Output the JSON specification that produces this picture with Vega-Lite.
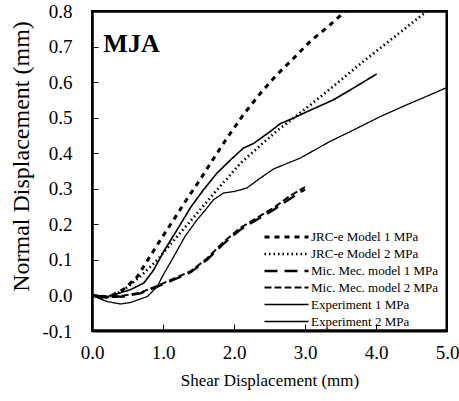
{
  "$schema": "https://vega.github.io/schema/vega-lite/v6.json",
  "width": 355,
  "height": 320,
  "autosize": {"type": "none"},
  "padding": {"left": 92, "top": 11, "right": 12, "bottom": 70},
  "background": "white",
  "config": {
    "font": "Liberation Serif",
    "view": {"stroke": "black", "strokeWidth": 2},
    "axis": {"grid": false, "tickColor": "black", "labelColor": "black", "titleColor": "black", "labelFont": "Liberation Serif", "titleFont": "Liberation Serif", "titleFontWeight": "normal"}
  },
  "resolve": {"axis": {"x": "independent", "y": "independent"}},
  "layer": [
    {
      "data": {"values": [
        {"s": "JRC-e Model 1 MPa", "x": 0, "y": 0},
        {"s": "JRC-e Model 1 MPa", "x": 0.2, "y": -0.004},
        {"s": "JRC-e Model 1 MPa", "x": 0.3, "y": 0.002},
        {"s": "JRC-e Model 1 MPa", "x": 0.45, "y": 0.018},
        {"s": "JRC-e Model 1 MPa", "x": 0.64, "y": 0.053},
        {"s": "JRC-e Model 1 MPa", "x": 0.78, "y": 0.098},
        {"s": "JRC-e Model 1 MPa", "x": 0.96, "y": 0.155},
        {"s": "JRC-e Model 1 MPa", "x": 1.15, "y": 0.213},
        {"s": "JRC-e Model 1 MPa", "x": 1.34, "y": 0.272},
        {"s": "JRC-e Model 1 MPa", "x": 1.53, "y": 0.328},
        {"s": "JRC-e Model 1 MPa", "x": 1.67, "y": 0.372},
        {"s": "JRC-e Model 1 MPa", "x": 1.9, "y": 0.442},
        {"s": "JRC-e Model 1 MPa", "x": 2.13, "y": 0.508},
        {"s": "JRC-e Model 1 MPa", "x": 2.37, "y": 0.568},
        {"s": "JRC-e Model 1 MPa", "x": 2.6, "y": 0.62},
        {"s": "JRC-e Model 1 MPa", "x": 2.84, "y": 0.667},
        {"s": "JRC-e Model 1 MPa", "x": 3.07, "y": 0.714},
        {"s": "JRC-e Model 1 MPa", "x": 3.33, "y": 0.757},
        {"s": "JRC-e Model 1 MPa", "x": 3.57, "y": 0.8},
        {"s": "JRC-e Model 2 MPa", "x": 0, "y": 0},
        {"s": "JRC-e Model 2 MPa", "x": 0.2, "y": -0.004},
        {"s": "JRC-e Model 2 MPa", "x": 0.3, "y": 0.0},
        {"s": "JRC-e Model 2 MPa", "x": 0.45, "y": 0.016},
        {"s": "JRC-e Model 2 MPa", "x": 0.68, "y": 0.053},
        {"s": "JRC-e Model 2 MPa", "x": 0.92, "y": 0.1},
        {"s": "JRC-e Model 2 MPa", "x": 1.2, "y": 0.166},
        {"s": "JRC-e Model 2 MPa", "x": 1.48, "y": 0.231},
        {"s": "JRC-e Model 2 MPa", "x": 1.76, "y": 0.297},
        {"s": "JRC-e Model 2 MPa", "x": 1.9, "y": 0.328},
        {"s": "JRC-e Model 2 MPa", "x": 2.09, "y": 0.372},
        {"s": "JRC-e Model 2 MPa", "x": 2.6, "y": 0.462},
        {"s": "JRC-e Model 2 MPa", "x": 3.07, "y": 0.535},
        {"s": "JRC-e Model 2 MPa", "x": 3.35, "y": 0.58},
        {"s": "JRC-e Model 2 MPa", "x": 3.82, "y": 0.658},
        {"s": "JRC-e Model 2 MPa", "x": 4.29, "y": 0.732},
        {"s": "JRC-e Model 2 MPa", "x": 4.72, "y": 0.8},
        {"s": "Mic. Mec. model 1 MPa", "x": 0, "y": 0},
        {"s": "Mic. Mec. model 1 MPa", "x": 0.2, "y": -0.004},
        {"s": "Mic. Mec. model 1 MPa", "x": 0.45, "y": -0.003},
        {"s": "Mic. Mec. model 1 MPa", "x": 0.68, "y": 0.006},
        {"s": "Mic. Mec. model 1 MPa", "x": 0.92, "y": 0.025},
        {"s": "Mic. Mec. model 1 MPa", "x": 1.15, "y": 0.044},
        {"s": "Mic. Mec. model 1 MPa", "x": 1.39, "y": 0.065},
        {"s": "Mic. Mec. model 1 MPa", "x": 1.62, "y": 0.1},
        {"s": "Mic. Mec. model 1 MPa", "x": 1.85, "y": 0.145},
        {"s": "Mic. Mec. model 1 MPa", "x": 2.09, "y": 0.185},
        {"s": "Mic. Mec. model 1 MPa", "x": 2.32, "y": 0.213},
        {"s": "Mic. Mec. model 1 MPa", "x": 2.56, "y": 0.241},
        {"s": "Mic. Mec. model 1 MPa", "x": 2.79, "y": 0.272},
        {"s": "Mic. Mec. model 1 MPa", "x": 3.0, "y": 0.298},
        {"s": "Mic. Mec. model 2 MPa", "x": 0, "y": 0},
        {"s": "Mic. Mec. model 2 MPa", "x": 0.2, "y": -0.006},
        {"s": "Mic. Mec. model 2 MPa", "x": 0.45, "y": 0.0},
        {"s": "Mic. Mec. model 2 MPa", "x": 0.68, "y": 0.008},
        {"s": "Mic. Mec. model 2 MPa", "x": 0.92, "y": 0.027},
        {"s": "Mic. Mec. model 2 MPa", "x": 1.15, "y": 0.047},
        {"s": "Mic. Mec. model 2 MPa", "x": 1.39, "y": 0.068},
        {"s": "Mic. Mec. model 2 MPa", "x": 1.62, "y": 0.104},
        {"s": "Mic. Mec. model 2 MPa", "x": 1.85, "y": 0.15},
        {"s": "Mic. Mec. model 2 MPa", "x": 2.09, "y": 0.19},
        {"s": "Mic. Mec. model 2 MPa", "x": 2.32, "y": 0.218},
        {"s": "Mic. Mec. model 2 MPa", "x": 2.56, "y": 0.247},
        {"s": "Mic. Mec. model 2 MPa", "x": 2.79, "y": 0.28},
        {"s": "Mic. Mec. model 2 MPa", "x": 3.0, "y": 0.305},
        {"s": "Experiment 1 MPa", "x": 0, "y": 0},
        {"s": "Experiment 1 MPa", "x": 0.12, "y": -0.008},
        {"s": "Experiment 1 MPa", "x": 0.31, "y": 0.002},
        {"s": "Experiment 1 MPa", "x": 0.54, "y": 0.016},
        {"s": "Experiment 1 MPa", "x": 0.73, "y": 0.035},
        {"s": "Experiment 1 MPa", "x": 0.87, "y": 0.072},
        {"s": "Experiment 1 MPa", "x": 1.01, "y": 0.124},
        {"s": "Experiment 1 MPa", "x": 1.2, "y": 0.185},
        {"s": "Experiment 1 MPa", "x": 1.39, "y": 0.248},
        {"s": "Experiment 1 MPa", "x": 1.57, "y": 0.297},
        {"s": "Experiment 1 MPa", "x": 1.76, "y": 0.344},
        {"s": "Experiment 1 MPa", "x": 1.95, "y": 0.381},
        {"s": "Experiment 1 MPa", "x": 2.13, "y": 0.414},
        {"s": "Experiment 1 MPa", "x": 2.28, "y": 0.428},
        {"s": "Experiment 1 MPa", "x": 2.51, "y": 0.461},
        {"s": "Experiment 1 MPa", "x": 2.65, "y": 0.483},
        {"s": "Experiment 1 MPa", "x": 2.84, "y": 0.499},
        {"s": "Experiment 1 MPa", "x": 3.03, "y": 0.517},
        {"s": "Experiment 1 MPa", "x": 3.4, "y": 0.55},
        {"s": "Experiment 1 MPa", "x": 3.68, "y": 0.583},
        {"s": "Experiment 1 MPa", "x": 4.01, "y": 0.623},
        {"s": "Experiment 2 MPa", "x": 0, "y": 0},
        {"s": "Experiment 2 MPa", "x": 0.21, "y": -0.017},
        {"s": "Experiment 2 MPa", "x": 0.4, "y": -0.024},
        {"s": "Experiment 2 MPa", "x": 0.54, "y": -0.02},
        {"s": "Experiment 2 MPa", "x": 0.78, "y": -0.003},
        {"s": "Experiment 2 MPa", "x": 0.92, "y": 0.025},
        {"s": "Experiment 2 MPa", "x": 0.99, "y": 0.053},
        {"s": "Experiment 2 MPa", "x": 1.15, "y": 0.109},
        {"s": "Experiment 2 MPa", "x": 1.31, "y": 0.166},
        {"s": "Experiment 2 MPa", "x": 1.48, "y": 0.213},
        {"s": "Experiment 2 MPa", "x": 1.6, "y": 0.241},
        {"s": "Experiment 2 MPa", "x": 1.71, "y": 0.269},
        {"s": "Experiment 2 MPa", "x": 1.85, "y": 0.288},
        {"s": "Experiment 2 MPa", "x": 1.99, "y": 0.292},
        {"s": "Experiment 2 MPa", "x": 2.18, "y": 0.302},
        {"s": "Experiment 2 MPa", "x": 2.37, "y": 0.33},
        {"s": "Experiment 2 MPa", "x": 2.56, "y": 0.356},
        {"s": "Experiment 2 MPa", "x": 2.93, "y": 0.386},
        {"s": "Experiment 2 MPa", "x": 3.35, "y": 0.433},
        {"s": "Experiment 2 MPa", "x": 3.64, "y": 0.461},
        {"s": "Experiment 2 MPa", "x": 4.06, "y": 0.503},
        {"s": "Experiment 2 MPa", "x": 4.43, "y": 0.536},
        {"s": "Experiment 2 MPa", "x": 4.76, "y": 0.564},
        {"s": "Experiment 2 MPa", "x": 5.0, "y": 0.585}
      ]},
      "mark": {"type": "line", "color": "black", "clip": true},
      "encoding": {
        "x": {"field": "x", "type": "quantitative",
          "scale": {"domain": [0, 5], "nice": false},
          "axis": {"values": [0, 1, 2, 3, 4, 5], "format": ".1f", "domain": true, "domainColor": "black", "domainWidth": 2, "ticks": true, "tickSize": -7, "tickWidth": 1, "tickColor": "black", "labelFlush": false, "labelOverlap": false, "labelPadding": 19, "labelFontSize": 19, "title": "Shear Displacement (mm)", "titleFontSize": 17, "titlePadding": 10}},
        "y": {"field": "y", "type": "quantitative",
          "scale": {"domain": [-0.1, 0.8], "nice": false, "zero": false},
          "axis": {"values": [-0.1, 0, 0.1, 0.2, 0.3, 0.4, 0.5, 0.6, 0.7, 0.8], "labelExpr": "datum.value < 0 ? '-' + format(-datum.value, '.1f') : format(datum.value, '.1f')", "domain": true, "domainColor": "black", "domainWidth": 2, "ticks": true, "tickSize": -6, "tickWidth": 1, "tickColor": "black", "labelFlush": false, "labelOverlap": false, "labelPadding": 26, "labelFontSize": 19, "title": "Normal Displacement (mm)", "titleFontSize": 24, "titlePadding": 8, "titleY": 145}},
        "strokeDash": {"field": "s", "type": "nominal",
          "scale": {"domain": ["JRC-e Model 1 MPa", "JRC-e Model 2 MPa", "Mic. Mec. model 1 MPa", "Mic. Mec. model 2 MPa", "Experiment 1 MPa", "Experiment 2 MPa"],
                    "range": [[5, 5], [1.5, 3], [13, 7], [7, 3], [1, 0], [1, 0]]},
          "legend": {"title": null, "orient": "none", "legendX": 171, "legendY": 217, "padding": 0, "symbolType": "M-1,0H4.87", "symbolSize": 225, "symbolStrokeColor": "black", "symbolFillColor": "transparent", "labelFontSize": 13, "labelFont": "Liberation Serif", "labelColor": "black", "rowPadding": 1, "labelOffset": 30}},
        "strokeWidth": {"field": "s", "type": "nominal",
          "scale": {"domain": ["JRC-e Model 1 MPa", "JRC-e Model 2 MPa", "Mic. Mec. model 1 MPa", "Mic. Mec. model 2 MPa", "Experiment 1 MPa", "Experiment 2 MPa"],
                    "range": [3, 1.3, 3.2, 1.6, 2.6, 1]},
          "legend": {"title": null, "orient": "none", "legendX": 171, "legendY": 217, "padding": 0, "symbolType": "M-1,0H4.87", "symbolSize": 225, "symbolStrokeColor": "black", "symbolFillColor": "transparent", "labelFontSize": 13, "labelFont": "Liberation Serif", "labelColor": "black", "rowPadding": 1, "labelOffset": 30}}
      }
    },
    {
      "data": {"values": [
        {"k": 0, "fx": 0.004, "fy": -0.0985},
        {"k": 1, "fx": 4.996, "fy": -0.0985},
        {"k": 2, "fx": 4.996, "fy": 0.7985},
        {"k": 3, "fx": 0.004, "fy": 0.7985},
        {"k": 4, "fx": 0.004, "fy": -0.0985}
      ]},
      "mark": {"type": "line", "color": "black", "strokeWidth": 2.5, "strokeCap": "square", "strokeJoin": "miter"},
      "encoding": {
        "x": {"field": "fx", "type": "quantitative", "axis": null},
        "y": {"field": "fy", "type": "quantitative", "axis": null},
        "order": {"field": "k", "type": "quantitative"}
      }
    },
    {
      "data": {"values": [{"label": "MJA", "x": 0.16, "y": 0.685}]},
      "mark": {"type": "text", "align": "left", "baseline": "alphabetic", "fontSize": 26, "fontWeight": "bold", "font": "Liberation Serif", "color": "black"},
      "encoding": {
        "x": {"field": "x", "type": "quantitative", "axis": null},
        "y": {"field": "y", "type": "quantitative", "axis": null},
        "text": {"field": "label"}
      }
    }
  ]
}
